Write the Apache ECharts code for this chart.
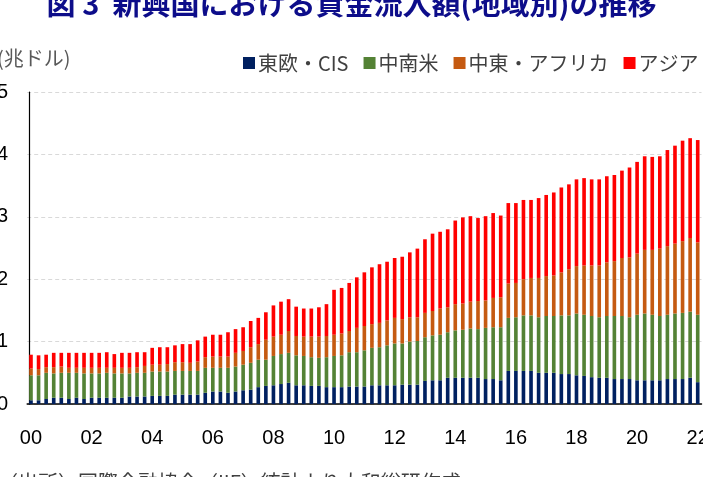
<!DOCTYPE html>
<html>
<head>
<meta charset="utf-8">
<script src="https://cdn.jsdelivr.net/npm/echarts@6/dist/echarts.min.js"></script>
<style>
  html, body { margin: 0; padding: 0; background: #fff; }
  #main-chart { width: 703px; height: 477px; }
</style>
</head>
<body>
<div id="main-chart"></div>
<script>
// 四半期（2000Q1〜2022Q1）
const years = ['00','01','02','03','04','05','06','07','08','09','10','11','12','13','14','15','16','17','18','19','20','21','22'];
const categories = [];
years.forEach(function (y) {
    ['Q1','Q2','Q3','Q4'].forEach(function (q) {
        if (y === '22' && q !== 'Q1') return;
        categories.push(y + q);
    });
});
const tickLabels = ['00','02','04','06','08','10','12','14','16','18','20','22'];
const yTicks = [0, 1, 2, 3, 4, 5];

// 兆ドル
const eastEurope = [0.06,0.06,0.08,0.10,0.10,0.08,0.10,0.08,0.10,0.10,0.10,0.10,0.10,0.12,0.12,0.12,0.13,0.13,0.13,0.15,
    0.15,0.15,0.15,0.18,0.20,0.20,0.18,0.20,0.22,0.23,0.27,0.29,0.30,0.32,0.34,0.30,0.30,0.29,0.29,0.27,
    0.27,0.27,0.28,0.28,0.28,0.30,0.30,0.30,0.30,0.31,0.31,0.31,0.37,0.38,0.38,0.42,0.42,0.42,0.42,0.42,
    0.40,0.40,0.38,0.53,0.53,0.53,0.53,0.50,0.50,0.50,0.48,0.48,0.46,0.45,0.43,0.42,0.42,0.40,0.40,0.40,
    0.38,0.38,0.38,0.38,0.40,0.40,0.40,0.42,0.35];
const latinAmerica = [0.40,0.40,0.42,0.39,0.40,0.42,0.40,0.41,0.39,0.39,0.40,0.39,0.39,0.37,0.38,0.38,0.39,0.39,0.39,0.38,
    0.38,0.38,0.38,0.40,0.38,0.38,0.40,0.40,0.41,0.43,0.44,0.42,0.47,0.48,0.48,0.48,0.47,0.46,0.45,0.48,
    0.50,0.51,0.55,0.55,0.58,0.60,0.61,0.64,0.67,0.66,0.69,0.70,0.70,0.72,0.73,0.73,0.76,0.77,0.79,0.78,
    0.82,0.83,0.85,0.85,0.86,0.89,0.89,0.89,0.91,0.91,0.94,0.94,0.99,0.98,0.98,0.97,0.99,1.01,1.01,0.99,
    1.05,1.07,1.05,1.03,1.03,1.05,1.06,1.06,1.08];
const middleEastAfrica = [0.11,0.10,0.09,0.10,0.10,0.08,0.08,0.09,0.09,0.09,0.08,0.09,0.09,0.09,0.09,0.11,0.11,0.11,0.12,0.14,
    0.14,0.13,0.15,0.17,0.18,0.18,0.18,0.22,0.22,0.25,0.25,0.32,0.31,0.31,0.35,0.31,0.31,0.33,0.34,0.34,
    0.34,0.35,0.34,0.39,0.39,0.38,0.39,0.40,0.41,0.39,0.39,0.38,0.39,0.39,0.42,0.40,0.42,0.42,0.43,0.45,
    0.44,0.47,0.48,0.55,0.55,0.58,0.60,0.63,0.64,0.65,0.69,0.74,0.76,0.79,0.81,0.83,0.86,0.88,0.93,0.96,
    0.98,1.02,1.04,1.08,1.10,1.12,1.15,1.18,1.16];
const asia = [0.22,0.22,0.20,0.23,0.22,0.24,0.24,0.24,0.24,0.24,0.25,0.22,0.24,0.24,0.24,0.22,0.27,0.28,0.27,0.27,
    0.29,0.30,0.34,0.33,0.35,0.35,0.39,0.38,0.38,0.42,0.42,0.44,0.50,0.53,0.51,0.47,0.45,0.45,0.47,0.51,
    0.72,0.73,0.77,0.81,0.86,0.91,0.94,0.94,0.96,1.00,1.04,1.10,1.18,1.24,1.23,1.25,1.34,1.38,1.37,1.33,
    1.35,1.36,1.31,1.29,1.28,1.27,1.25,1.28,1.30,1.33,1.36,1.36,1.39,1.40,1.38,1.38,1.38,1.38,1.40,1.44,
    1.47,1.50,1.49,1.48,1.54,1.57,1.61,1.60,1.64];

const seriesNames = ['東欧・CIS', '中南米', '中東・アフリカ', 'アジア'];
const seriesColors = ['#002060', '#548235', '#C55A11', '#FF0000'];
const seriesData = [eastEurope, latinAmerica, middleEastAfrica, asia];

const jpFont = '"Noto Sans CJK JP", sans-serif';
const numFont = '"Liberation Sans", Arial, sans-serif';

const myChart = echarts.init(document.getElementById('main-chart'));

const option = {
    animation: false,
    color: seriesColors,
    title: {
        text: '図 3  新興国における資金流入額(地域別)の推移',
        left: 'center',
        top: -16,
        textStyle: {
            color: '#0D0D8A',
            fontFamily: jpFont,
            fontWeight: 'bold',
            fontSize: 29,
        },
    },
    legend: {
        data: seriesNames,
        left: 238,
        top: 48,
        width: 800,
        icon: 'rect',
        itemWidth: 12,
        itemHeight: 12,
        itemGap: 15,
        textStyle: {
            color: '#404040',
            fontFamily: jpFont,
            fontSize: 20,
            padding: [0, 0, 0, -2],
        },
    },
    graphic: [
        {
            type: 'text',
            left: -3,
            top: 48,
            style: {
                text: '(兆ドル)',
                fill: '#595959',
                font: '20px ' + jpFont,
            },
        },
        {
            type: 'text',
            left: -2,
            top: 472,
            style: {
                text: '（出所）国際金融協会（IIF）統計より大和総研作成',
                fill: '#404040',
                font: '20px ' + jpFont,
            },
        },
    ],
    grid: {
        left: 27.2,
        right: 1.5,
        top: 92,
        bottom: 73,
        outerBoundsMode: 'none',
    },
    xAxis: {
        type: 'category',
        data: categories,
        boundaryGap: true,
        axisLine: {
            show: true,
            lineStyle: { color: '#000', width: 1.5 },
        },
        axisTick: { show: false },
        axisLabel: {
            interval: function (index) { return index % 8 === 0; },
            formatter: function (value, index) { return tickLabels[index / 8]; },
            margin: 24,
            color: '#000',
            fontFamily: numFont,
            fontSize: 20,
            hideOverlap: false,
        },
    },
    yAxis: {
        type: 'value',
        min: yTicks[0],
        max: yTicks[yTicks.length - 1],
        interval: 1,
        offset: -2,
        axisLine: {
            show: true,
            lineStyle: { color: '#000', width: 1.2 },
        },
        axisTick: { show: false },
        axisLabel: {
            margin: 21,
            color: '#000',
            fontFamily: numFont,
            fontSize: 20,
        },
        splitLine: {
            show: true,
            lineStyle: { color: '#D9D9D9', type: [4, 3], width: 1 },
        },
    },
    series: seriesNames.map(function (name, i) {
        return {
            name: name,
            type: 'bar',
            stack: 'total',
            barWidth: '48%',
            itemStyle: { color: seriesColors[i] },
            data: seriesData[i],
        };
    }),
};

myChart.setOption(option);
</script>
</body>
</html>
